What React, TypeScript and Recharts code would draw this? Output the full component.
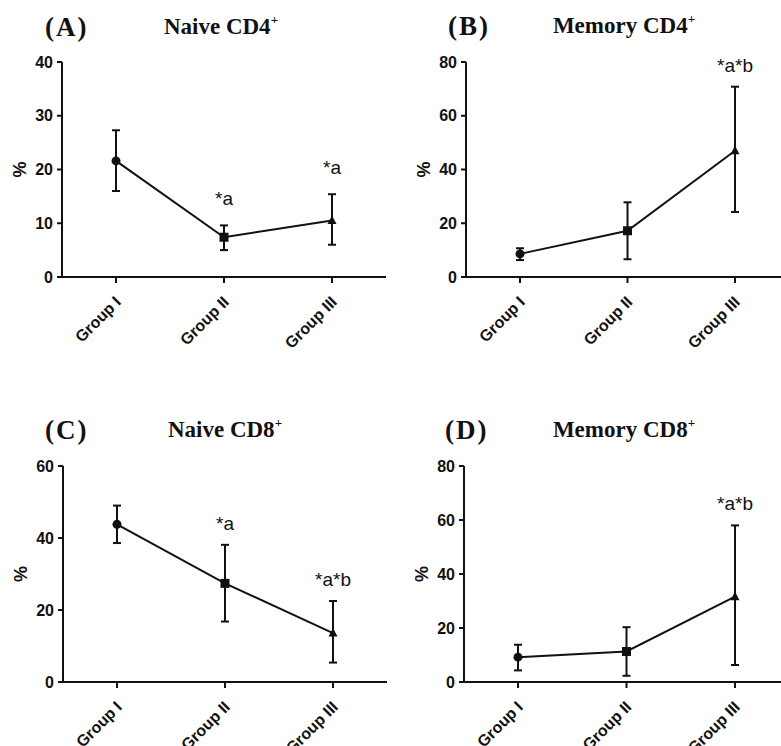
import React from "react";
import { LineChart, Line, XAxis, YAxis, ErrorBar, ReferenceDot } from "recharts";

const GROUPS = ["Group I", "Group II", "Group III"];
const MARKERS = ["circle", "square", "triangle"];

// Naive CD4+
const naiveCd4Mean = [21.6, 7.4, 10.5];
const naiveCd4Low = [16.0, 5.0, 6.0];
const naiveCd4High = [27.3, 9.6, 15.4];
const naiveCd4Marks = ["", "*a", "*a"];
const naiveCd4Ticks = [0, 10, 20, 30, 40];

// Memory CD4+
const memoryCd4Mean = [8.6, 17.2, 47.0];
const memoryCd4Low = [6.3, 6.6, 24.2];
const memoryCd4High = [10.7, 27.8, 70.8];
const memoryCd4Marks = ["", "", "*a*b"];
const memoryCd4Ticks = [0, 20, 40, 60, 80];

// Naive CD8+
const naiveCd8Mean = [43.8, 27.4, 13.6];
const naiveCd8Low = [38.6, 16.8, 5.4];
const naiveCd8High = [49.0, 38.1, 22.5];
const naiveCd8Marks = ["", "*a", "*a*b"];
const naiveCd8Ticks = [0, 20, 40, 60];

// Memory CD8+
const memoryCd8Mean = [9.2, 11.3, 31.6];
const memoryCd8Low = [4.3, 2.3, 6.3];
const memoryCd8High = [13.8, 20.3, 58.0];
const memoryCd8Marks = ["", "", "*a*b"];
const memoryCd8Ticks = [0, 20, 40, 60, 80];

const SANS = "'Liberation Sans', Arial, sans-serif";
const SERIF = "'Liberation Serif', 'Times New Roman', serif";
const INK = "#111";

const Y_AXIS_W = 62;
const TOP_PAD = 20;
const X_AXIS_H = 100;

function buildRows(mean: number[], low: number[], high: number[]) {
  return GROUPS.map((group, i) => ({
    group,
    value: mean[i],
    err: [mean[i] - low[i], high[i] - mean[i]],
  }));
}

function renderMarker(props: any) {
  const { cx, cy, index } = props;
  const shape = MARKERS[index];
  if (shape === "square") {
    return <rect key={`m-${index}`} x={cx - 4.5} y={cy - 4.5} width={9} height={9} fill={INK} />;
  }
  if (shape === "triangle") {
    return (
      <polygon
        key={`m-${index}`}
        points={`${cx},${cy - 5} ${cx - 4.5},${cy + 3.5} ${cx + 4.5},${cy + 3.5}`}
        fill={INK}
      />
    );
  }
  return <circle key={`m-${index}`} cx={cx} cy={cy} r={4.5} fill={INK} />;
}

function GroupTick(props: any) {
  const { x, y, payload } = props;
  const ax = x + 6;
  const ay = y + 18;
  return (
    <text
      x={ax}
      y={ay}
      textAnchor="end"
      transform={`rotate(-45 ${ax} ${ay})`}
      fontFamily={SANS}
      fontWeight="bold"
      fontSize={16}
      fill={INK}
    >
      {payload.value}
    </text>
  );
}

function PercentLabel(props: any) {
  const { viewBox } = props;
  const x = viewBox.x + viewBox.width - 36;
  const y = viewBox.y + viewBox.height / 2;
  return (
    <text
      x={x}
      y={y}
      textAnchor="middle"
      transform={`rotate(-90 ${x} ${y})`}
      fontFamily={SANS}
      fontWeight="bold"
      fontSize={18}
      fill={INK}
    >
      %
    </text>
  );
}

interface PanelProps {
  plotLeft: number;
  plotTop: number;
  plotRight: number;
  plotBottom: number;
  mean: number[];
  low: number[];
  high: number[];
  marks: string[];
  ticks: number[];
  markOffset: number;
}

function Panel({ plotLeft, plotTop, plotRight, plotBottom, mean, low, high, marks, ticks, markOffset }: PanelProps) {
  const rows = buildRows(mean, low, high);
  const width = plotRight - plotLeft + Y_AXIS_W;
  const height = plotBottom - plotTop + TOP_PAD + X_AXIS_H;
  return (
    <div style={{ position: "absolute", left: plotLeft - Y_AXIS_W, top: plotTop - TOP_PAD }}>
      <LineChart width={width} height={height} data={rows} margin={{ top: TOP_PAD, right: 0, bottom: 0, left: 0 }}>
        <XAxis
          dataKey="group"
          height={X_AXIS_H}
          padding={{ left: 54, right: 54 }}
          interval={0}
          axisLine={{ stroke: INK, strokeWidth: 2 }}
          tickLine={{ stroke: INK, strokeWidth: 2 }}
          tickSize={6}
          tick={<GroupTick />}
        />
        <YAxis
          type="number"
          width={Y_AXIS_W}
          domain={[0, ticks[ticks.length - 1]]}
          ticks={ticks}
          interval={0}
          axisLine={{ stroke: INK, strokeWidth: 2 }}
          tickLine={{ stroke: INK, strokeWidth: 2 }}
          tickSize={5}
          tickMargin={4}
          tick={{ fill: INK, fontSize: 16, fontWeight: "bold", fontFamily: SANS }}
          label={<PercentLabel />}
        />
        <Line
          type="linear"
          dataKey="value"
          stroke={INK}
          strokeWidth={2}
          dot={renderMarker}
          activeDot={false}
          isAnimationActive={false}
        >
          <ErrorBar dataKey="err" direction="y" width={4} strokeWidth={2} stroke={INK} />
        </Line>
        {marks.map((mark, i) =>
          mark ? (
            <ReferenceDot
              key={`mark-${i}`}
              x={GROUPS[i]}
              y={high[i]}
              r={0}
              fill="none"
              stroke="none"
              label={{ value: mark, position: "top", offset: markOffset, fontSize: 19, fill: INK, fontFamily: SANS }}
            />
          ) : null
        )}
      </LineChart>
    </div>
  );
}

function Heading({ x, y, letter, cx, name }: { x: number; y: number; letter: string; cx: number; name: string }) {
  return (
    <g fontFamily={SERIF} fontWeight="bold" fill={INK}>
      <text x={x} y={y + 2} fontSize={27} letterSpacing={2}>
        {letter}
      </text>
      <text x={cx} y={y} fontSize={23} textAnchor="middle">
        {name}
        <tspan dy={-10} fontSize={13}>
          +
        </tspan>
      </text>
    </g>
  );
}

export default function App() {
  return (
    <div
      style={{
        position: "absolute",
        left: 0,
        top: 0,
        width: 781,
        height: 746,
        overflow: "hidden",
        background: "#fff",
      }}
    >
      <svg width={781} height={746} style={{ position: "absolute", left: 0, top: 0 }}>
        <Heading x={45} y={34} letter="(A)" cx={221} name="Naive CD4" />
        <Heading x={448} y={33} letter="(B)" cx={624} name="Memory CD4" />
        <Heading x={45} y={437} letter="(C)" cx={225} name="Naive CD8" />
        <Heading x={445} y={437} letter="(D)" cx={624} name="Memory CD8" />
      </svg>
      <Panel
        plotLeft={62}
        plotTop={62}
        plotRight={386}
        plotBottom={277}
        mean={naiveCd4Mean}
        low={naiveCd4Low}
        high={naiveCd4High}
        marks={naiveCd4Marks}
        ticks={naiveCd4Ticks}
        markOffset={20}
      />
      <Panel
        plotLeft={466}
        plotTop={62}
        plotRight={789}
        plotBottom={277}
        mean={memoryCd4Mean}
        low={memoryCd4Low}
        high={memoryCd4High}
        marks={memoryCd4Marks}
        ticks={memoryCd4Ticks}
        markOffset={15}
      />
      <Panel
        plotLeft={63}
        plotTop={466}
        plotRight={387}
        plotBottom={682}
        mean={naiveCd8Mean}
        low={naiveCd8Low}
        high={naiveCd8High}
        marks={naiveCd8Marks}
        ticks={naiveCd8Ticks}
        markOffset={15}
      />
      <Panel
        plotLeft={464}
        plotTop={466}
        plotRight={789}
        plotBottom={682}
        mean={memoryCd8Mean}
        low={memoryCd8Low}
        high={memoryCd8High}
        marks={memoryCd8Marks}
        ticks={memoryCd8Ticks}
        markOffset={15}
      />
    </div>
  );
}
